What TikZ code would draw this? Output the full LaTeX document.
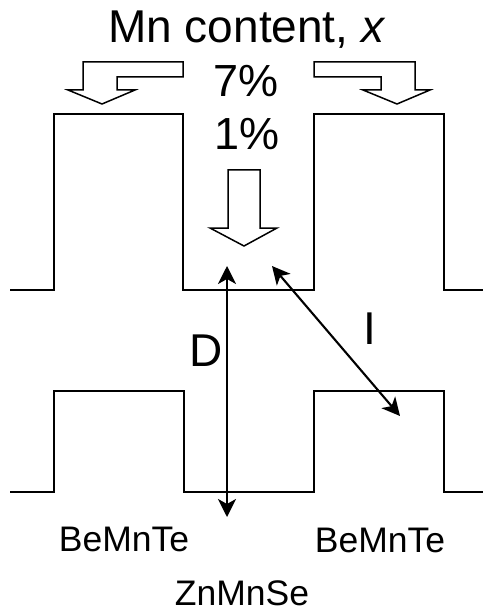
\documentclass[tikz,border=0pt]{standalone}
\usepackage{fontspec}
\setmainfont{Liberation Sans}
\usetikzlibrary{arrows.meta}
\tikzset{
  biglabel/.style={font=\fontsize{46}{50}\selectfont, anchor=base, inner sep=0pt},
  pctlabel/.style={font=\fontsize{45}{50}\selectfont, anchor=base, inner sep=0pt},
  layerlabel/.style={font=\fontsize{35.5}{40}\selectfont, anchor=base, inner sep=0pt},
  profile/.style={line width=1.8pt, line join=miter},
  blockarrow/.style={line width=1.5pt, line join=miter, fill=white},
  distarrow/.style={line width=2.1pt, {Stealth[length=18pt,width=18pt,inset=5pt]}-{Stealth[length=18pt,width=18pt,inset=5pt]}}
}
\begin{document}
\begin{tikzpicture}[x=1pt, y=-1pt]
  \useasboundingbox (0,0) rectangle (483,612);

  % Upper profile
  \draw[profile] (10,290) -- (54,290) -- (54,114) -- (183,114) -- (183,290)
    -- (314,290) -- (314,114) -- (444,114) -- (444,290) -- (483,290);

  % Lower profile
  \draw[profile] (10,492) -- (54,492) -- (54,391) -- (184,391) -- (184,492)
    -- (314,492) -- (314,391) -- (444,391) -- (444,492) -- (483,492);

  % Block arrows
  \draw[blockarrow] (183,62) -- (83,62) -- (83,90) -- (68,90) -- (102,104)
    -- (135,90) -- (117,90) -- (117,77) -- (183,77) -- cycle;
  \draw[blockarrow] (314,62) -- (415,62) -- (415,90) -- (430,90) -- (397,104)
    -- (363,90) -- (381,90) -- (381,77) -- (314,77) -- cycle;
  \draw[blockarrow] (228,170) -- (260,170) -- (260,228) -- (277,228) -- (244,246)
    -- (210,228) -- (228,228) -- cycle;

  % Labels
  \node[biglabel] (title) at (247,43) {Mn content, \textit{x}};
  \node[pctlabel] (high) at (246,97) {7\%};
  \node[pctlabel] (low) at (247,150) {1\%};
  \node[biglabel] (dlabel) at (206,366) {D};
  \node[biglabel] (ilabel) at (370,344) {I};
  \node[layerlabel] (leftbarrier) at (124,551) {BeMnTe};
  \node[layerlabel] (rightbarrier) at (380,552) {BeMnTe};
  \node[layerlabel] (well) at (242,605) {ZnMnSe};

  % Distances
  \coordinate (dtop) at (227,266);
  \coordinate (dbot) at (227,517);
  \coordinate (itop) at (272,266);
  \coordinate (ibot) at (400,416);
  \draw[distarrow] (dtop) -- (dbot);
  \draw[distarrow] (itop) -- (ibot);
\end{tikzpicture}
\end{document}
